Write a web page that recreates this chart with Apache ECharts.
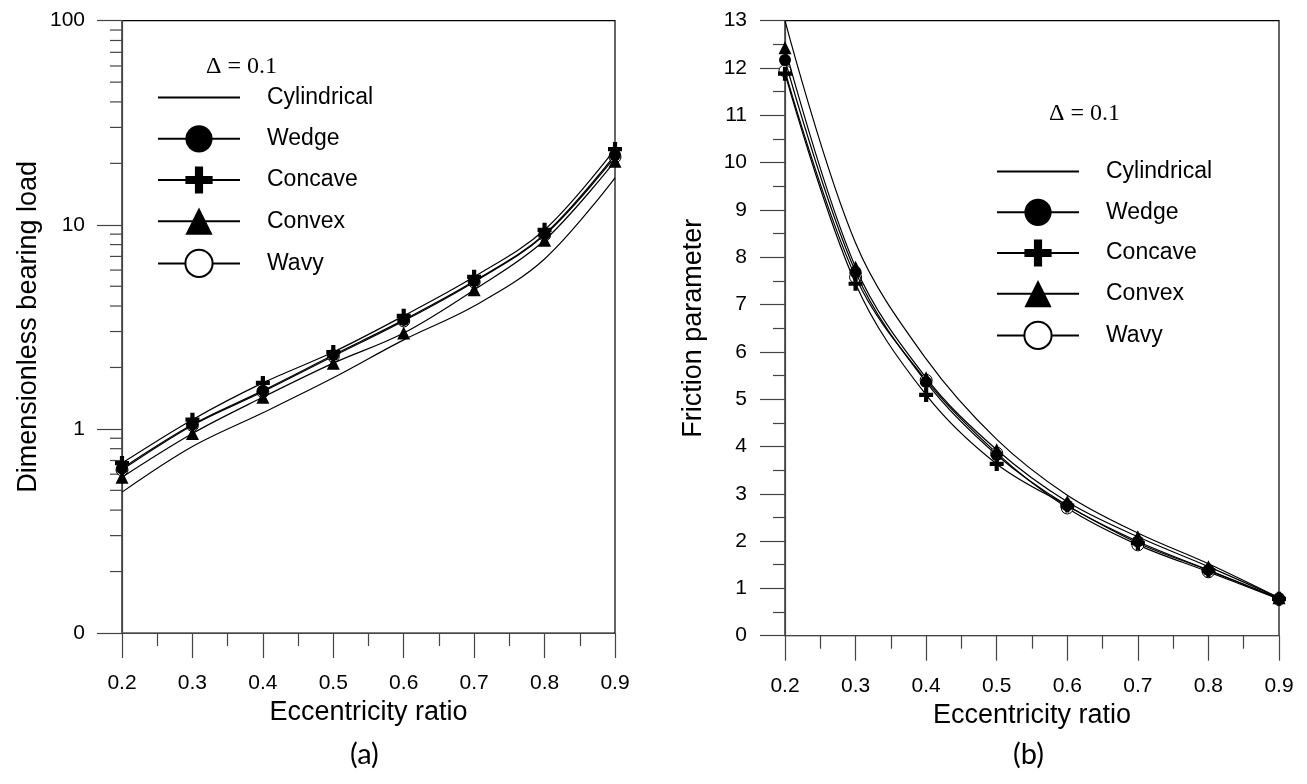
<!DOCTYPE html>
<html>
<head>
<meta charset="utf-8">
<script src="https://cdn.jsdelivr.net/npm/echarts@6/dist/echarts.min.js"></script>
<style>
html,body{margin:0;padding:0;background:#fff;}
#c{width:1307px;height:784px;}
</style>
</head>
<body>
<div id="c"></div>
<script>
// ---- data ----
const ecc = [0.2, 0.3, 0.4, 0.5, 0.6, 0.7, 0.8, 0.9];
const seriesNames = ['Cylindrical', 'Wedge', 'Concave', 'Convex', 'Wavy'];

// (a) dimensionless bearing load (log scale)
const loadCylindrical = [0.49, 0.82, 1.2, 1.78, 2.73, 4.0, 6.8, 17];
const loadWedge       = [0.64, 1.05, 1.54, 2.3, 3.42, 5.3, 9.0, 22];
const loadConcave     = [0.68, 1.11, 1.68, 2.38, 3.58, 5.56, 9.45, 23.5];
const loadConvex      = [0.58, 0.95, 1.43, 2.1, 2.95, 4.8, 8.4, 20.5];
const loadWavy        = [0.63, 1.04, 1.52, 2.27, 3.38, 5.25, 8.9, 21.5];

// (b) friction parameter
const fricCylindrical = [13.0, 8.3, 5.85, 4.15, 2.97, 2.17, 1.52, 0.8];
const fricWedge       = [12.17, 7.69, 5.36, 3.82, 2.75, 1.99, 1.39, 0.79];
const fricConcave     = [11.88, 7.44, 5.09, 3.63, 2.75, 1.96, 1.38, 0.78];
const fricConvex      = [12.43, 7.79, 5.45, 3.93, 2.83, 2.09, 1.46, 0.8];
const fricWavy        = [11.94, 7.58, 5.4, 3.86, 2.7, 1.92, 1.35, 0.77];

// tick labels
const loadTickLabels = ['0', '1', '10', '100'];
const loadMinorTicks = [0.2,0.3,0.4,0.5,0.6,0.7,0.8,0.9, 2,3,4,5,6,7,8,9, 20,30,40,50,60,70,80,90];

// ---- styling ----
const FONT = '"Liberation Sans", Arial, sans-serif';
const AXC = '#444';
const plusPath = 'path://M3.5,0H6.5V3.5H10V6.5H6.5V10H3.5V6.5H0V3.5H3.5Z';
const symbolOf = {
  Cylindrical: {symbol: 'none', size: 0, fill: '#000', z: 3},
  Wedge: {symbol: 'circle', size: 12, fill: '#000', z: 4},
  Concave: {symbol: plusPath, size: 14, fill: '#000', z: 5},
  Convex: {symbol: 'triangle', size: 13, fill: '#000', z: 4},
  Wavy: {symbol: 'circle', size: 12, fill: '#fff', z: 2}
};
const loadData = {Cylindrical: loadCylindrical, Wedge: loadWedge, Concave: loadConcave, Convex: loadConvex, Wavy: loadWavy};
const fricData = {Cylindrical: fricCylindrical, Wedge: fricWedge, Concave: fricConcave, Convex: fricConvex, Wavy: fricWavy};

function makeSeries(name, values, idx) {
  const s = symbolOf[name];
  return {
    name: name, type: 'line', xAxisIndex: idx, yAxisIndex: idx,
    data: ecc.map((x, i) => [x, values[i]]),
    smooth: 0.35,
    symbol: s.symbol, symbolSize: s.size, showSymbol: s.symbol !== 'none',
    lineStyle: {color: '#000', width: 1.2},
    itemStyle: {color: s.fill, borderColor: '#000', borderWidth: name === 'Wavy' ? 1 : 0},
    emphasis: {disabled: true},
    animation: false, z: s.z
  };
}

function xAxisCfg(gi) {
  return {
    type: 'value', gridIndex: gi, min: 0.2, max: 0.9, interval: 0.1,
    name: 'Eccentricity ratio', nameLocation: 'middle', nameGap: 64,
    nameTextStyle: {fontFamily: FONT, fontSize: 27, color: '#000'},
    axisLine: {show: true, onZero: false, lineStyle: {color: AXC, width: 1.2}},
    axisTick: {show: true, length: 25, lineStyle: {color: AXC, width: 1.2}},
    minorTick: {show: true, splitNumber: 2, length: 13, lineStyle: {color: AXC, width: 1.2}},
    splitLine: {show: false},
    axisLabel: {fontFamily: FONT, fontSize: 21, color: '#000', margin: 40,
      formatter: v => v.toFixed(1)}
  };
}

const legendBase = {
  orient: 'vertical', padding: 0, itemWidth: 82, itemHeight: 34,
  textStyle: {fontFamily: FONT, fontSize: 23, color: '#000', padding: [0, 0, 0, 22]},
  data: seriesNames.map(n => n === 'Cylindrical' ? {name: n, itemStyle: {opacity: 0}} : n),
  selectedMode: false
};

const option = {
  backgroundColor: '#fff',
  animation: false,
  grid: [
    {left: 122, top: 20.7, right: 692, bottom: 151, show: true, borderColor: '#000', borderWidth: 1.2},
    {left: 785, top: 20.7, right: 28, bottom: 148.3, show: true, borderColor: '#000', borderWidth: 1.2}
  ],
  xAxis: [xAxisCfg(0), xAxisCfg(1)],
  yAxis: [
    {
      type: 'log', gridIndex: 0, logBase: 10, min: 0.1, max: 100,
      name: 'Dimensionless bearing load', nameLocation: 'middle', nameGap: 80,
      nameTextStyle: {fontFamily: FONT, fontSize: 27, color: '#000'},
      axisLine: {show: true, lineStyle: {color: AXC, width: 1.2}},
      axisTick: {show: true, length: 25, lineStyle: {color: AXC, width: 1.2}},
      splitLine: {show: false},
      axisLabel: {fontFamily: FONT, fontSize: 21, color: '#000', margin: 37,
        formatter: (v, i) => loadTickLabels[i] !== undefined ? loadTickLabels[i] : String(v)}
    },
    {
      type: 'value', gridIndex: 1, min: 0, max: 13, interval: 1,
      name: 'Friction parameter', nameLocation: 'middle', nameGap: 78,
      nameTextStyle: {fontFamily: FONT, fontSize: 27, color: '#000'},
      axisLine: {show: true, lineStyle: {color: AXC, width: 1.2}},
      axisTick: {show: true, length: 25, lineStyle: {color: AXC, width: 1.2}},
      minorTick: {show: true, splitNumber: 2, length: 12, lineStyle: {color: AXC, width: 1.2}},
      splitLine: {show: false},
      axisLabel: {fontFamily: FONT, fontSize: 21, color: '#000', margin: 38}
    }
  ],
  legend: [
    Object.assign({}, legendBase, {left: 157, top: 84, itemGap: 14}),
    Object.assign({}, legendBase, {left: 996, top: 158, itemGap: 13.5})
  ],
  graphic: [
    {type: 'text', left: 206, top: 55, style: {text: 'Δ = 0.1', font: '24px "Liberation Serif", "Times New Roman", serif', fill: '#000'}},
    {type: 'text', left: 1049, top: 102, style: {text: 'Δ = 0.1', font: '24px "Liberation Serif", "Times New Roman", serif', fill: '#000'}},
    {type: 'text', left: 350, top: 740, style: {text: '(a)', font: '29px Lato, "Open Sans", sans-serif', fill: '#000'}},
    {type: 'text', left: 1013, top: 740, style: {text: '(b)', font: '29px Lato, "Open Sans", sans-serif', fill: '#000'}}
  ],
  series: []
};

seriesNames.forEach(n => option.series.push(makeSeries(n, loadData[n], 0)));
seriesNames.forEach(n => option.series.push(makeSeries(n, fricData[n], 1)));

// minor ticks of the log axis (at 2..9 of each decade)
option.series.push({
  type: 'custom', xAxisIndex: 0, yAxisIndex: 0, clip: false, silent: true, z: 1,
  data: loadMinorTicks.map(v => [0.2, v]),
  renderItem: function (params, api) {
    const p = api.coord([api.value(0), api.value(1)]);
    return {type: 'line', shape: {x1: p[0] - 12, y1: p[1], x2: p[0], y2: p[1]},
      style: {stroke: AXC, lineWidth: 1.2}};
  }
});

const chart = echarts.init(document.getElementById('c'), null, {renderer: 'canvas'});
chart.setOption(option);
</script>
</body>
</html>
